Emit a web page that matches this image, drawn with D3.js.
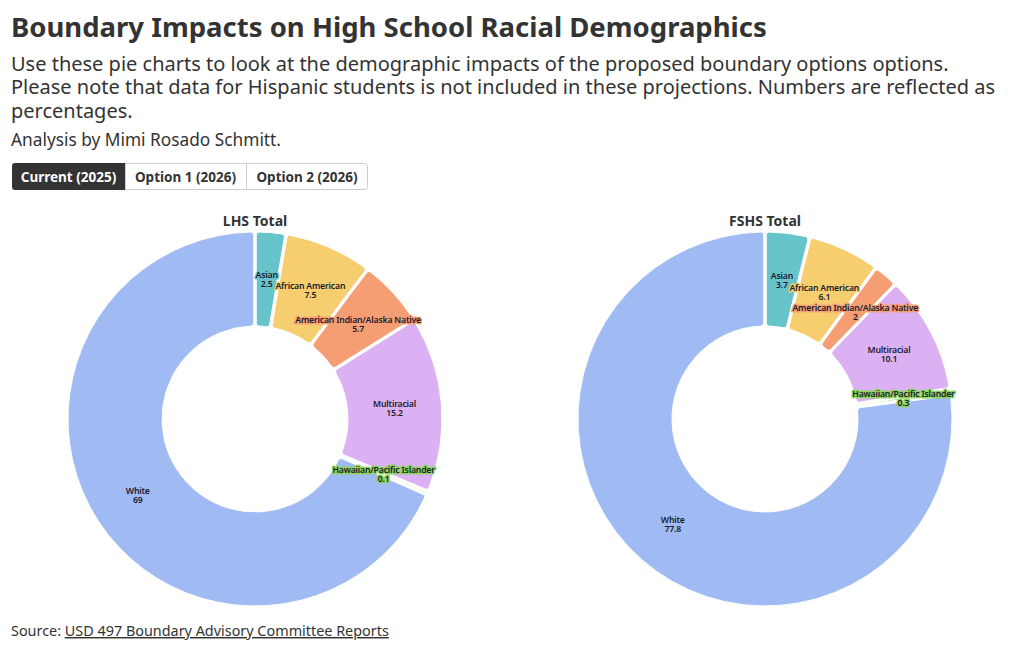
<!DOCTYPE html>
<html><head><meta charset="utf-8">
<script src="https://cdn.jsdelivr.net/npm/d3@7"></script>
<style>
body{margin:0;background:#fff;font-family:"Noto Sans",sans-serif;color:#333;}
svg{display:block}
</style></head>
<body>
<svg id="c" width="1020" height="650"></svg>
<script>
const categories = ["Asian","African American","American Indian/Alaska Native","Multiracial","Hawaiian/Pacific Islander","White"];
const colors = ["#68c4cb","#f6ce70","#f69e73","#dbb1f3","#8ed45f","#a0baf3"];
const lhsValues = [2.5,7.5,5.7,15.2,0.1,69];
const fshsValues = [3.7,6.1,2,10.1,0.3,77.8];
const chartTitles = ["LHS Total","FSHS Total"];
const buttons = ["Current (2025)","Option 1 (2026)","Option 2 (2026)"];
const title = "Boundary Impacts on High School Racial Demographics";
const subtitleLines = ["Use these pie charts to look at the demographic impacts of the proposed boundary options options.",
 "Please note that data for Hispanic students is not included in these projections. Numbers are reflected as",
 "percentages."];
const byline = "Analysis by Mimi Rosado Schmitt.";

const svg = d3.select("#c");
const F = '"Noto Sans", sans-serif';

svg.append("text").attr("x",11).attr("y",37).attr("font-family",F).attr("font-weight",700)
  .attr("font-size",27.5).attr("fill","#333").text(title);
subtitleLines.forEach((t,i)=>{
  svg.append("text").attr("x",11).attr("y",70.5+i*23.5).attr("font-family",F)
    .attr("font-size",20).attr("fill","#333").text(t);
});
svg.append("text").attr("x",11).attr("y",146).attr("font-family",F)
  .attr("font-size",17.3).attr("fill","#333").text(byline);

// buttons
const bx = [12,125,246,368];
const bg = svg.append("g");
bg.append("rect").attr("x",12.5).attr("y",163.5).attr("width",355).attr("height",26).attr("rx",3)
  .attr("fill","#fff").attr("stroke","#ccc");
buttons.forEach((b,i)=>{
  if(i===0){
    bg.append("path").attr("d",`M${bx[0]+3},163 H${bx[1]} V190 H${bx[0]+3} Q${bx[0]},190 ${bx[0]},187 V166 Q${bx[0]},163 ${bx[0]+3},163Z`).attr("fill","#333");
  } else {
    bg.append("line").attr("x1",bx[i]+0.5).attr("x2",bx[i]+0.5).attr("y1",164).attr("y2",189).attr("stroke","#ccc");
  }
  bg.append("text").attr("x",(bx[i]+bx[i+1])/2).attr("y",182).attr("text-anchor","middle")
    .attr("font-family",F).attr("font-weight",700).attr("font-size",13.5)
    .attr("fill",i===0?"#fff":"#333").text(b);
});

// pies
const R = 187, r0 = 93;
const centers = [[255,419],[765,419]];
const datasets = [lhsValues, fshsValues];
const pie = d3.pie().sort(null).value(d=>d.v).padAngle(0.012);
const arc = d3.arc().innerRadius(r0).outerRadius(R).cornerRadius(3);
const labelArc = d3.arc().innerRadius(93).outerRadius(187);

datasets.forEach((vals,k)=>{
  const g = svg.append("g").attr("transform",`translate(${centers[k][0]},${centers[k][1]})`);
  svg.append("text").attr("x",centers[k][0]).attr("y",226).attr("text-anchor","middle")
    .attr("font-family",F).attr("font-weight",700).attr("font-size",14).attr("fill","#333").text(chartTitles[k]);
  const data = pie(vals.map((v,i)=>({v,c:categories[i],col:colors[i]})));
  g.selectAll("path").data(data).join("path").attr("d",arc).attr("fill",d=>d.data.col)
    .attr("stroke","#fff").attr("stroke-width",1);
  const lab = g.selectAll("g.lab").data(data).join("g").attr("class","lab")
    .attr("transform",d=>`translate(${labelArc.centroid(d)})`);
  const t = lab.append("text").attr("text-anchor","middle").attr("font-family",F)
    .attr("font-weight",600).attr("font-size",8.7).attr("fill","#1b1b2b")
    .attr("letter-spacing","-0.2")
    .attr("stroke",d=>d.data.col).attr("stroke-width",3).attr("stroke-linejoin","round")
    .attr("paint-order","stroke");
  t.append("tspan").attr("x",0).attr("y",-1).text(d=>d.data.c);
  t.append("tspan").attr("x",0).attr("y",8).text(d=>d.data.v);
});

// source
const src = svg.append("text").attr("x",11).attr("y",636).attr("font-family",F).attr("font-size",14.4).attr("fill","#333");
src.append("tspan").text("Source: ");
src.append("tspan").attr("text-decoration","underline").text("USD 497 Boundary Advisory Committee Reports");
</script>
</body></html>
